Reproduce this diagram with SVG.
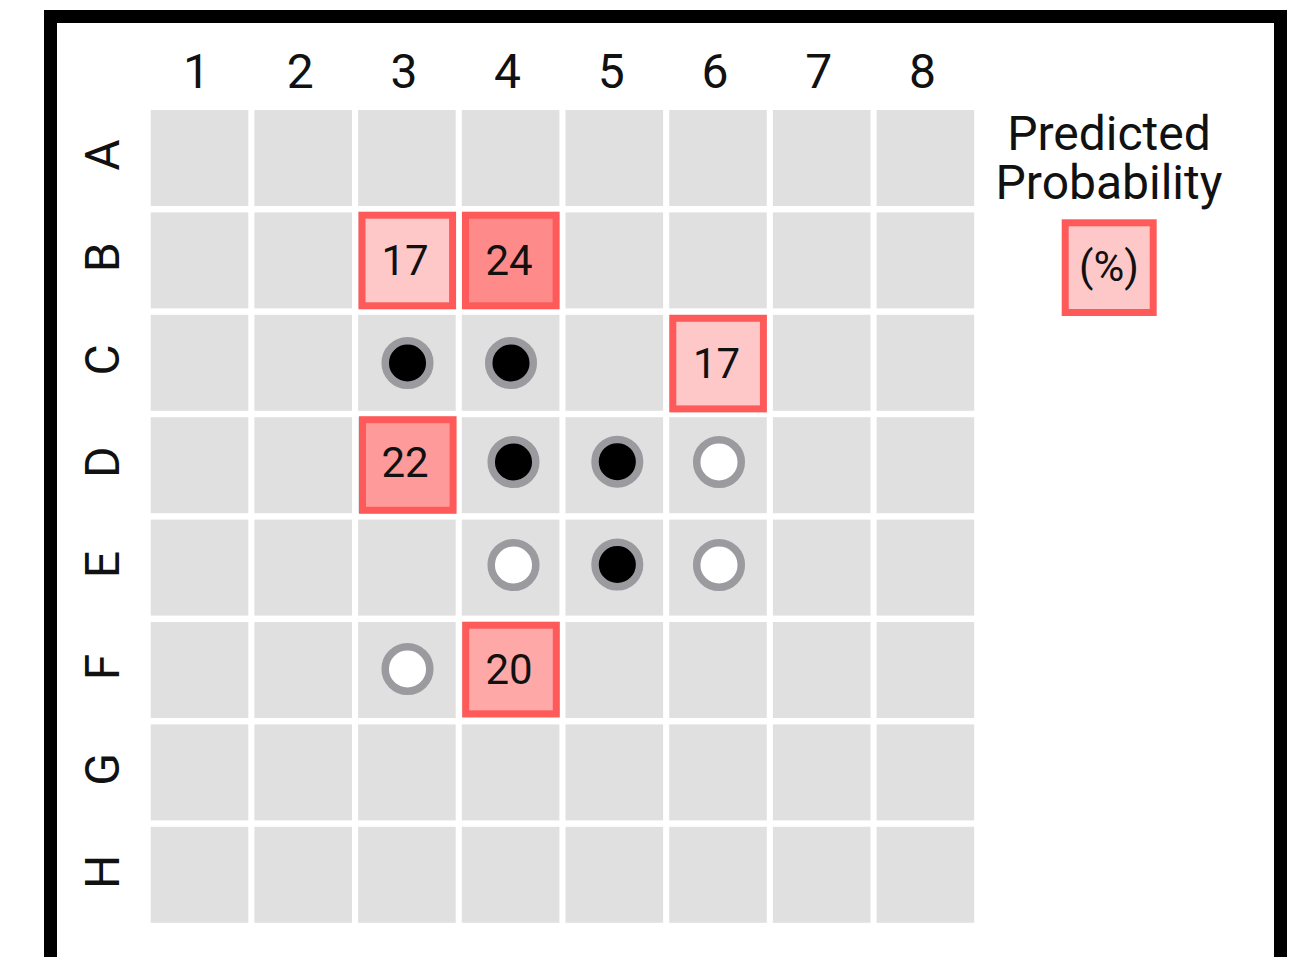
<svg xmlns="http://www.w3.org/2000/svg" width="1305" height="957" viewBox="0 0 1305 957">
<style>
.cell{fill:#e0e0e0}
.hl{stroke:#ff5a5a;stroke-width:7}
.p1{fill:#ffc8c8}
.p2{fill:#ff8a8a}
.p3{fill:#ff9a9a}
.p4{fill:#ffa8a8}
.lbl{font-family:Roboto,"Liberation Sans",sans-serif;font-size:48px;fill:#111;text-anchor:middle}
.num{font-family:Roboto,"Liberation Sans",sans-serif;font-size:42px;fill:#111;text-anchor:middle}
.dot{stroke:#9a9a9f;stroke-width:7.5}
.full{fill:#000}
.empty{fill:#fff}
</style>
<rect x="0" y="0" width="1305" height="957" fill="#fff"/>
<rect x="50.5" y="16.5" width="1230" height="1000" fill="none" stroke="#000" stroke-width="13"/>
<g id="grid">
<g id="rowA">
<rect class="cell" x="150.7" y="110" width="97.6" height="96"/><rect class="cell" x="254.4" y="110" width="97.6" height="96"/><rect class="cell" x="358.1" y="110" width="97.6" height="96"/><rect class="cell" x="461.8" y="110" width="97.6" height="96"/><rect class="cell" x="565.5" y="110" width="97.6" height="96"/><rect class="cell" x="669.2" y="110" width="97.6" height="96"/><rect class="cell" x="772.9" y="110" width="97.6" height="96"/><rect class="cell" x="876.6" y="110" width="97.6" height="96"/>
</g>
<g id="rowB">
<rect class="cell" x="150.7" y="212.4" width="97.6" height="96"/><rect class="cell" x="254.4" y="212.4" width="97.6" height="96"/><rect class="cell" x="358.1" y="212.4" width="97.6" height="96"/><rect class="cell" x="461.8" y="212.4" width="97.6" height="96"/><rect class="cell" x="565.5" y="212.4" width="97.6" height="96"/><rect class="cell" x="669.2" y="212.4" width="97.6" height="96"/><rect class="cell" x="772.9" y="212.4" width="97.6" height="96"/><rect class="cell" x="876.6" y="212.4" width="97.6" height="96"/>
</g>
<g id="rowC">
<rect class="cell" x="150.7" y="314.8" width="97.6" height="96"/><rect class="cell" x="254.4" y="314.8" width="97.6" height="96"/><rect class="cell" x="358.1" y="314.8" width="97.6" height="96"/><rect class="cell" x="461.8" y="314.8" width="97.6" height="96"/><rect class="cell" x="565.5" y="314.8" width="97.6" height="96"/><rect class="cell" x="669.2" y="314.8" width="97.6" height="96"/><rect class="cell" x="772.9" y="314.8" width="97.6" height="96"/><rect class="cell" x="876.6" y="314.8" width="97.6" height="96"/>
</g>
<g id="rowD">
<rect class="cell" x="150.7" y="417.2" width="97.6" height="96"/><rect class="cell" x="254.4" y="417.2" width="97.6" height="96"/><rect class="cell" x="358.1" y="417.2" width="97.6" height="96"/><rect class="cell" x="461.8" y="417.2" width="97.6" height="96"/><rect class="cell" x="565.5" y="417.2" width="97.6" height="96"/><rect class="cell" x="669.2" y="417.2" width="97.6" height="96"/><rect class="cell" x="772.9" y="417.2" width="97.6" height="96"/><rect class="cell" x="876.6" y="417.2" width="97.6" height="96"/>
</g>
<g id="rowE">
<rect class="cell" x="150.7" y="519.6" width="97.6" height="96"/><rect class="cell" x="254.4" y="519.6" width="97.6" height="96"/><rect class="cell" x="358.1" y="519.6" width="97.6" height="96"/><rect class="cell" x="461.8" y="519.6" width="97.6" height="96"/><rect class="cell" x="565.5" y="519.6" width="97.6" height="96"/><rect class="cell" x="669.2" y="519.6" width="97.6" height="96"/><rect class="cell" x="772.9" y="519.6" width="97.6" height="96"/><rect class="cell" x="876.6" y="519.6" width="97.6" height="96"/>
</g>
<g id="rowF">
<rect class="cell" x="150.7" y="622" width="97.6" height="96"/><rect class="cell" x="254.4" y="622" width="97.6" height="96"/><rect class="cell" x="358.1" y="622" width="97.6" height="96"/><rect class="cell" x="461.8" y="622" width="97.6" height="96"/><rect class="cell" x="565.5" y="622" width="97.6" height="96"/><rect class="cell" x="669.2" y="622" width="97.6" height="96"/><rect class="cell" x="772.9" y="622" width="97.6" height="96"/><rect class="cell" x="876.6" y="622" width="97.6" height="96"/>
</g>
<g id="rowG">
<rect class="cell" x="150.7" y="724.4" width="97.6" height="96"/><rect class="cell" x="254.4" y="724.4" width="97.6" height="96"/><rect class="cell" x="358.1" y="724.4" width="97.6" height="96"/><rect class="cell" x="461.8" y="724.4" width="97.6" height="96"/><rect class="cell" x="565.5" y="724.4" width="97.6" height="96"/><rect class="cell" x="669.2" y="724.4" width="97.6" height="96"/><rect class="cell" x="772.9" y="724.4" width="97.6" height="96"/><rect class="cell" x="876.6" y="724.4" width="97.6" height="96"/>
</g>
<g id="rowH">
<rect class="cell" x="150.7" y="826.8" width="97.6" height="96"/><rect class="cell" x="254.4" y="826.8" width="97.6" height="96"/><rect class="cell" x="358.1" y="826.8" width="97.6" height="96"/><rect class="cell" x="461.8" y="826.8" width="97.6" height="96"/><rect class="cell" x="565.5" y="826.8" width="97.6" height="96"/><rect class="cell" x="669.2" y="826.8" width="97.6" height="96"/><rect class="cell" x="772.9" y="826.8" width="97.6" height="96"/><rect class="cell" x="876.6" y="826.8" width="97.6" height="96"/>
</g>
</g>
<g id="col-labels">
<text class="lbl" x="196.5" y="88">1</text>
<text class="lbl" x="300.2" y="88">2</text>
<text class="lbl" x="403.9" y="88">3</text>
<text class="lbl" x="507.6" y="88">4</text>
<text class="lbl" x="611.3" y="88">5</text>
<text class="lbl" x="715" y="88">6</text>
<text class="lbl" x="818.7" y="88">7</text>
<text class="lbl" x="922.4" y="88">8</text>
</g>
<g id="row-labels">
<text class="lbl" transform="translate(119,155) rotate(-90)">A</text>
<text class="lbl" transform="translate(119,257.4) rotate(-90)">B</text>
<text class="lbl" transform="translate(119,359.8) rotate(-90)">C</text>
<text class="lbl" transform="translate(119,462.2) rotate(-90)">D</text>
<text class="lbl" transform="translate(119,564.6) rotate(-90)">E</text>
<text class="lbl" transform="translate(119,667) rotate(-90)">F</text>
<text class="lbl" transform="translate(119,769.4) rotate(-90)">G</text>
<text class="lbl" transform="translate(119,871.8) rotate(-90)">H</text>
</g>
<g id="B3"><rect class="hl p1" x="362" y="215.2" width="90.6" height="90.6"/><text class="num" x="405" y="275">17</text></g>
<g id="B4"><rect class="hl p2" x="465.5" y="215.2" width="90.6" height="90.6"/><text class="num" x="509" y="275">24</text></g>
<g id="C6"><rect class="hl p1" x="672.8" y="318.3" width="90.6" height="90.6"/><text class="num" x="716.5" y="378">17</text></g>
<g id="D3"><rect class="hl p3" x="362.5" y="419.7" width="90.6" height="90.6"/><text class="num" x="405" y="477">22</text></g>
<g id="F4"><rect class="hl p4" x="465.7" y="625.2" width="90.6" height="88.6"/><text class="num" x="509" y="684">20</text></g>
<g id="dots">
<circle id="C3dot" class="dot full" cx="407.5" cy="363" r="22.3"/>
<circle id="C4dot" class="dot full" cx="511" cy="363" r="22.3"/>
<circle id="D4dot" class="dot full" cx="513.5" cy="462" r="22.3"/>
<circle id="D5dot" class="dot full" cx="617.3" cy="461.7" r="22.3"/>
<circle id="D6dot" class="dot empty" cx="719" cy="462" r="22.3"/>
<circle id="E4dot" class="dot empty" cx="513.5" cy="565" r="22.3"/>
<circle id="E5dot" class="dot full" cx="617.3" cy="564.5" r="22.3"/>
<circle id="E6dot" class="dot empty" cx="719" cy="565" r="22.3"/>
<circle id="F3dot" class="dot empty" cx="407.5" cy="669" r="22.3"/>
</g>
<g id="legend">
<text class="lbl" x="1109" y="150"><tspan x="1109" y="150">Predicted</tspan><tspan x="1109" y="199">Probability</tspan></text>
<rect class="hl p1" x="1065.2" y="222.8" width="88" height="89.7"/>
<text class="num" x="1109" y="281">(%)</text>
</g>
</svg>
